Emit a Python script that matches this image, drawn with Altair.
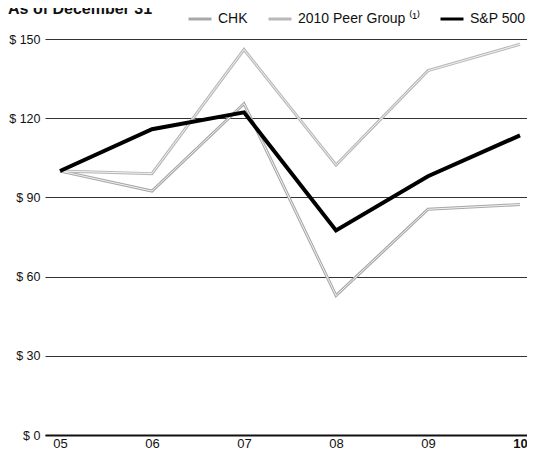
import altair as alt
import pandas as pd

years = [2005, 2006, 2007, 2008, 2009, 2010]
series_names = ["CHK", "2010 Peer Group ⁽¹⁾", "S&P 500"]
chk = [100, 92.4, 125.5, 52.8, 85.5, 87.3]
peer = [100, 99.0, 146.0, 102.3, 138.0, 148.0]
sp500 = [100, 115.8, 122.2, 77.5, 98.0, 113.5]
y_ticks = [0, 30, 60, 90, 120, 150]
header = "As of December 31"

rows = []
for name, vals in zip(series_names, [chk, peer, sp500]):
    for yr, v in zip(years, vals):
        rows.append({"year": yr, "value": v, "series": name})
df = pd.DataFrame(rows)

FONT = "Liberation Sans"

x_enc = alt.X(
    "year:Q",
    scale=alt.Scale(domain=[2005 - 15 / 92, 2010 + 7 / 92], nice=False, zero=False),
    axis=alt.Axis(
        values=years,
        labelExpr="substring(toString(datum.value), 2, 4)",
        grid=False, ticks=False, domain=True, domainColor="#111", domainWidth=2,
        title=None, labelFontSize=13, labelPadding=2, labelColor="#111",
        labelFontWeight=alt.expr("datum.value == 2010 ? 'bold' : 'normal'"),
        labelFont=FONT,
    ),
)
y_enc = alt.Y(
    "value:Q",
    scale=alt.Scale(domain=[0, 150], nice=False),
    axis=alt.Axis(
        values=y_ticks,
        labelExpr="'$ ' + datum.value",
        grid=True, gridColor="#333", gridWidth=1,
        ticks=False, domain=False, title=None,
        labelFontSize=12.5, labelPadding=5, labelColor="#111", labelFont=FONT,
    ),
)

color_scale = alt.Scale(domain=series_names, range=["#a8a8a8", "#b8b8b8", "#000000"])
width_scale = alt.Scale(domain=series_names, range=[3, 3, 4])

base = alt.Chart(df)

legend = alt.Legend(
    orient="none", direction="horizontal", legendX=142, legendY=-33,
    title=None, symbolType="stroke", symbolSize=529, labelFontSize=14,
    labelFont=FONT, labelColor="#111", columnPadding=14, labelOffset=5,
)

outer = base.mark_line().encode(
    x=x_enc, y=y_enc,
    color=alt.Color("series:N", scale=color_scale, legend=legend, sort=series_names),
    strokeWidth=alt.StrokeWidth("series:N", scale=width_scale, legend=legend, sort=series_names),
    order=alt.Order("year:Q"),
).transform_filter(alt.datum.series != "S&P 500")

inner = base.mark_line(color="#f2f2f2", strokeWidth=1).encode(
    x=x_enc, y=y_enc, detail="series:N", order=alt.Order("year:Q"),
).transform_filter(alt.datum.series != "S&P 500")

spline = base.mark_line(color="black", strokeWidth=4).encode(
    x=x_enc, y=y_enc, order=alt.Order("year:Q"),
).transform_filter(alt.datum.series == "S&P 500")

title_txt = alt.Chart(pd.DataFrame({"t": [header]})).mark_text(
    align="left", baseline="alphabetic", fontSize=16, fontWeight="bold", font=FONT, color="#111"
).encode(x=alt.value(-37), y=alt.value(-25), text="t:N")

chart = alt.layer(outer, inner, spline, title_txt).properties(
    width=482, height=396,
    autosize=alt.AutoSizeParams(type="none"),
    padding={"left": 37, "top": 31, "right": 0, "bottom": 14},
).configure_view(stroke=None)

chart.save("out.html", embed_options={"renderer": "svg", "actions": False})
